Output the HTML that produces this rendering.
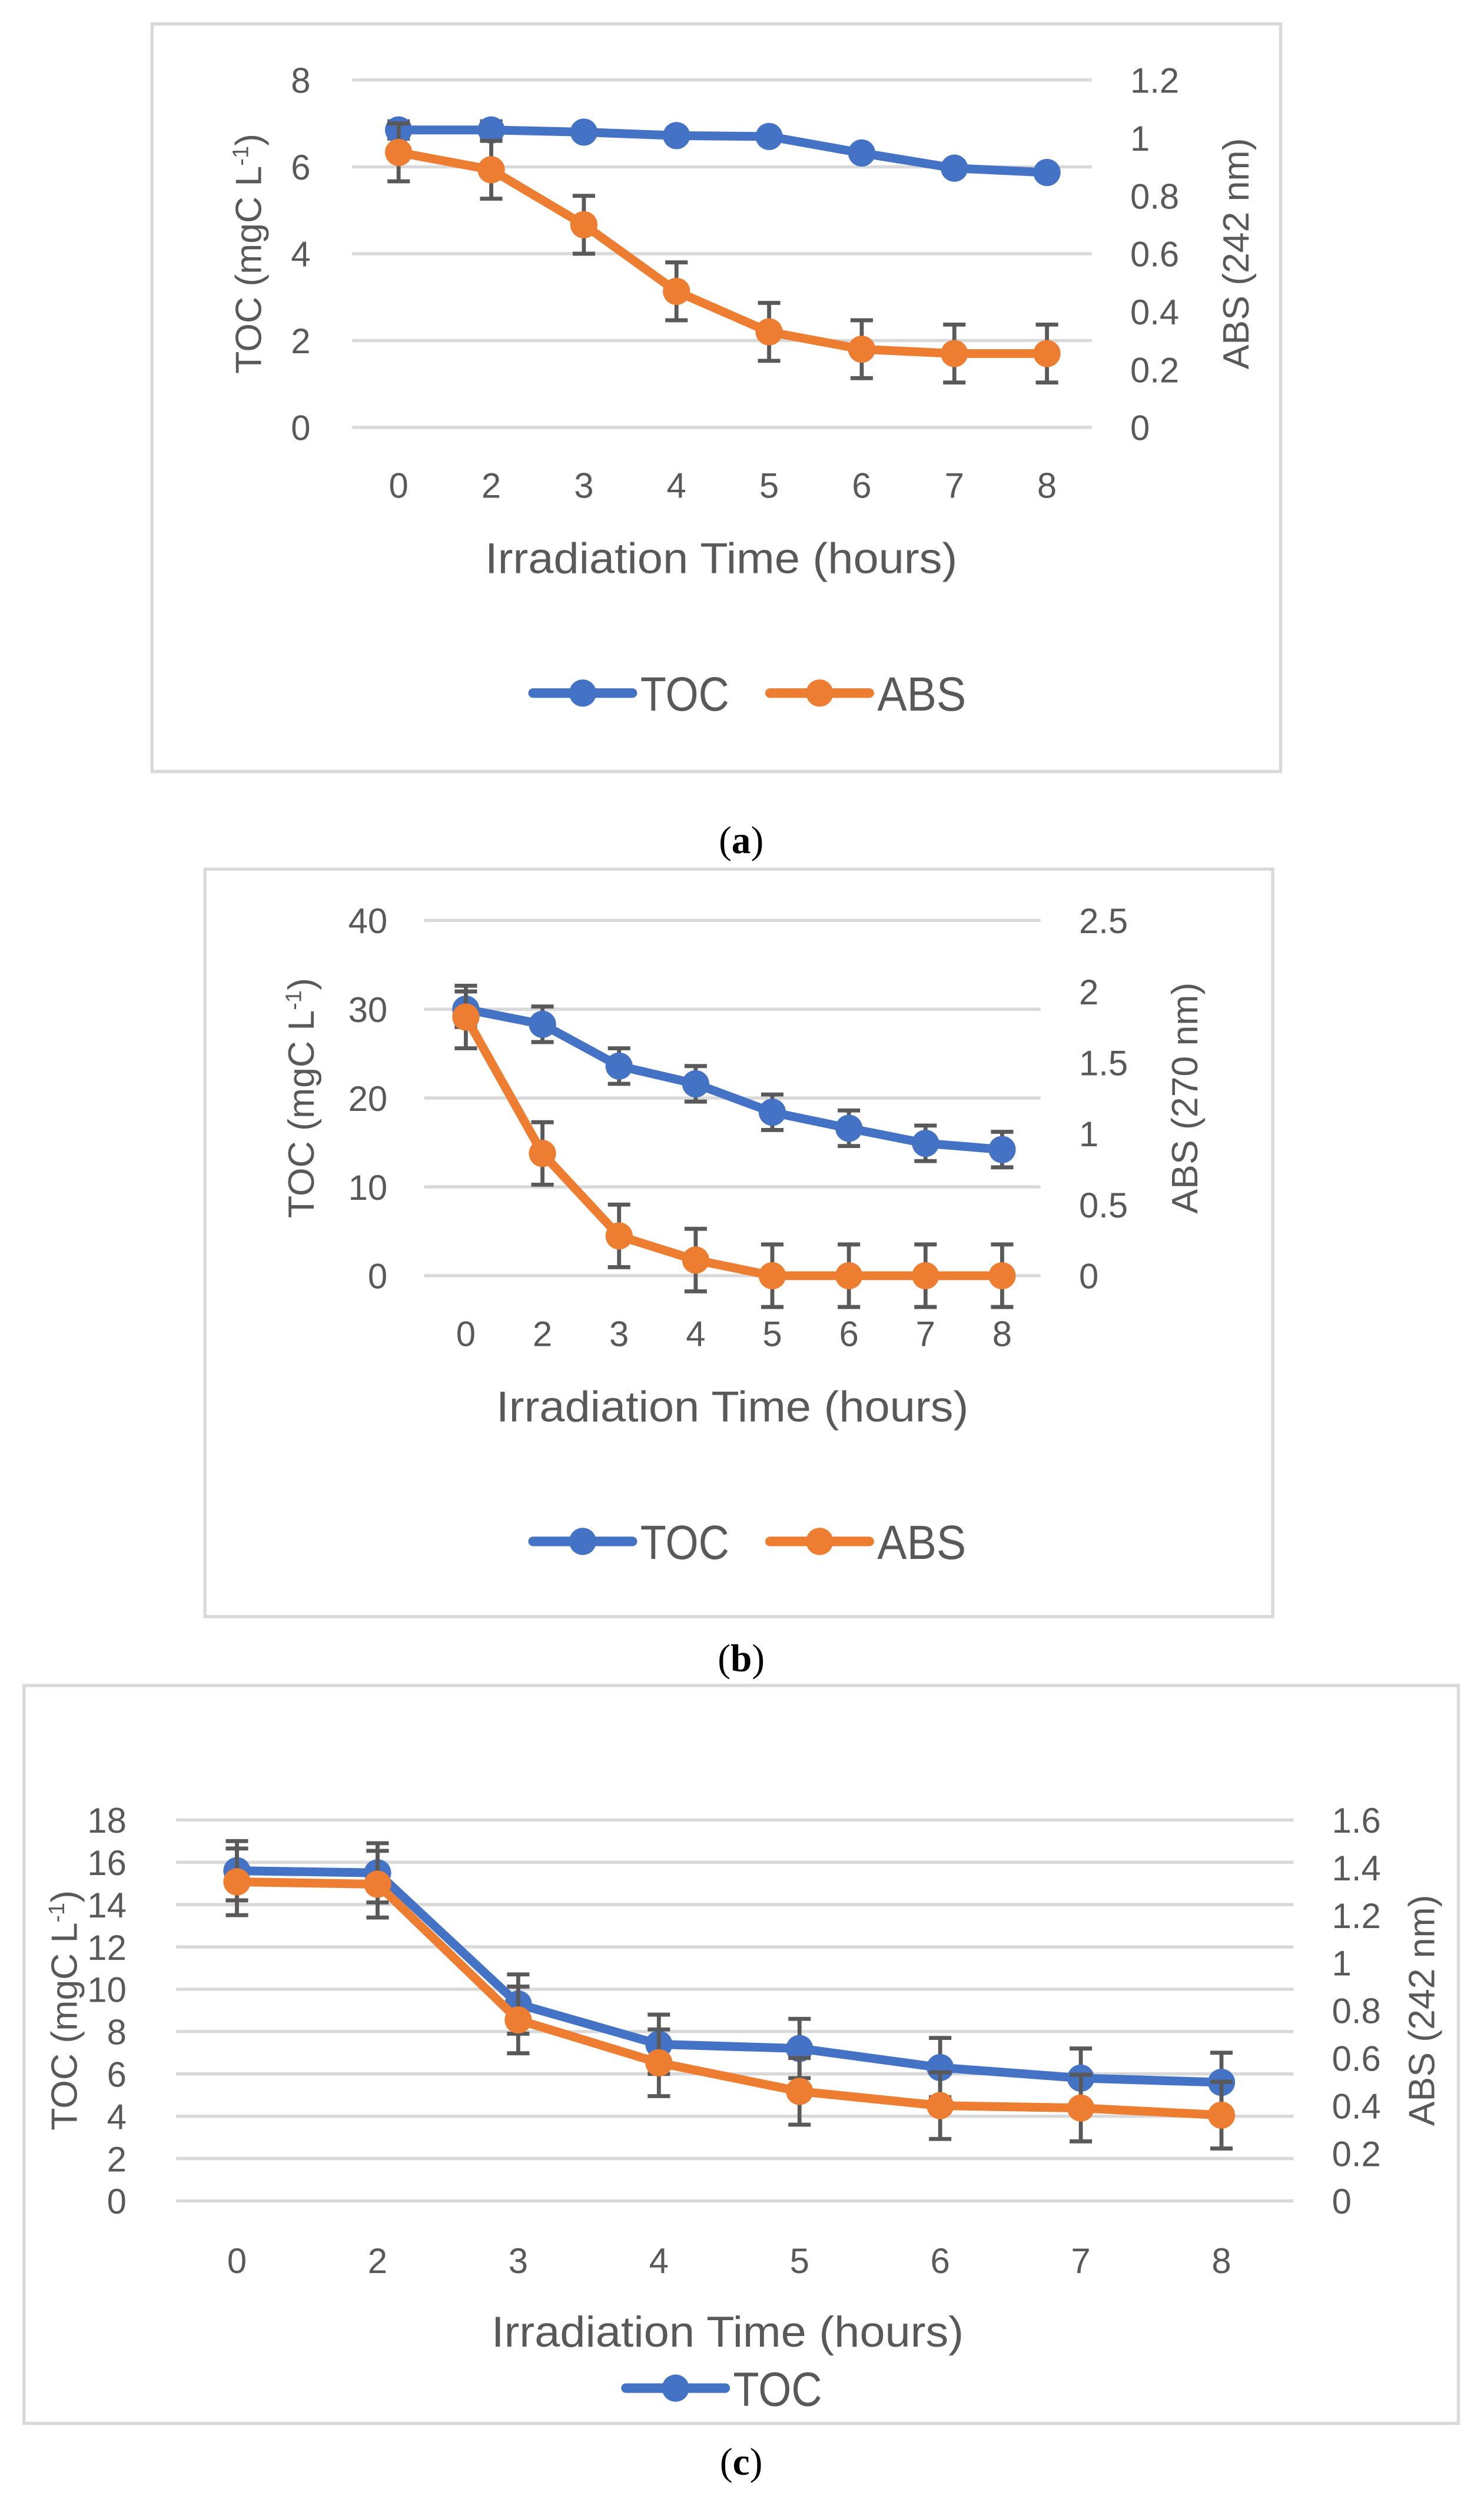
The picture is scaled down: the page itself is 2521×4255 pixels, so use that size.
<!DOCTYPE html>
<html><head><meta charset="utf-8">
<style>
html,body{margin:0;padding:0;background:#fff;}
svg{display:block;}
text{font-family:"Liberation Sans Narrow","Liberation Sans",sans-serif;fill:#595959;}
.wide{font-family:"Liberation Sans",sans-serif;}
.cap{font-family:"Liberation Serif",serif;fill:#000;}
</style></head>
<body>
<svg id="fig" width="2521" height="4255" viewBox="0 0 927 1565" preserveAspectRatio="none" xmlns="http://www.w3.org/2000/svg"></svg>
<script>
const categories = ["0","2","3","4","5","6","7","8"];
// panel a
const tocA = [6.85,6.85,6.8,6.72,6.7,6.32,5.97,5.87];
const tocErrA = [0.2,0.2,0,0,0,0,0,0];
const absA = [0.95,0.89,0.70,0.47,0.33,0.27,0.255,0.255];
const absErrA = [0.1,0.1,0.1,0.1,0.1,0.1,0.1,0.1];
const leftTicksA = [0,2,4,6,8];
const rightTicksA = ["0","0.2","0.4","0.6","0.8","1","1.2"];
// panel b
const tocB = [30,28.3,23.6,21.6,18.4,16.6,14.9,14.2];
const tocErrB = [2,2,2,2,2,2,2,2];
const absB = [1.82,0.86,0.28,0.11,0,0,0,0];
const absErrB = [0.22,0.22,0.22,0.22,0.22,0.22,0.22,0.22];
const leftTicksB = [0,10,20,30,40];
const rightTicksB = ["0","0.5","1","1.5","2","2.5"];
// panel c
const tocC = [15.6,15.5,9.3,7.4,7.2,6.3,5.8,5.6];
const tocErrC = [1.4,1.4,1.4,1.4,1.4,1.4,1.4,1.4];
const absC = [1.34,1.33,0.76,0.58,0.46,0.40,0.39,0.36];
const absErrC = [0.14,0.14,0.14,0.14,0.14,0.14,0.14,0.14];
const leftTicksC = [0,2,4,6,8,10,12,14,16,18];
const rightTicksC = ["0","0.2","0.4","0.6","0.8","1","1.2","1.4","1.6"];

const NS="http://www.w3.org/2000/svg";
const svg=document.getElementById('fig');
function mk(tag,attrs,parent){const e=document.createElementNS(NS,tag);for(const k in attrs)e.setAttribute(k,attrs[k]);(parent||svg).appendChild(e);return e;}
const BLUE="#4472c4",ORANGE="#ed7d31",GRID="#d9d9d9",ERR="#595959";

function panel(cfg){
  const g=mk('g',{});
  
  
  const box=mk('rect',{x:cfg.box[0],y:cfg.box[1],width:cfg.box[2]-cfg.box[0],height:cfg.box[3]-cfg.box[1],fill:'#fff',stroke:GRID,'stroke-width':2},g);
  
  
  const lmax=cfg.lTicks[cfg.lTicks.length-1];
  const rmax=parseFloat(cfg.rTicks[cfg.rTicks.length-1]);
  const yL=v=>cfg.y0-(v/lmax)*(cfg.y0-cfg.yTop);
  const yR=v=>cfg.y0-(v/rmax)*(cfg.y0-cfg.yTop);
  const xs=i=>cfg.x0+i*(cfg.x8-cfg.x0)/(categories.length-1);
  cfg.lTicks.forEach(t=>{
    const l=mk('line',{x1:cfg.gx[0],x2:cfg.gx[1],y1:yL(t),y2:yL(t),stroke:GRID,'stroke-width':2},g);
    
    
    const tx=mk('text',{x:cfg.lx,y:yL(t)+8,'text-anchor':'end','font-size':cfg.fs},g);tx.textContent=t;
    
    
  });
  cfg.rTicks.forEach(t=>{
    const tx=mk('text',{x:cfg.rx,y:yR(parseFloat(t))+8,'font-size':cfg.fs},g);tx.textContent=t;
    
    
  });
  categories.forEach((c,i)=>{
    const tx=mk('text',{x:xs(i),y:cfg.xly,'text-anchor':'middle','font-size':cfg.fs},g);tx.textContent=c;
    
    
  });
  const xt=mk('text',{x:cfg.xtx,y:cfg.xty,'font-size':27,textLength:295,lengthAdjust:'spacingAndGlyphs'},g);xt.textContent='Irradiation Time (hours)';
  
  
  const ym=(cfg.y0+cfg.yTop)/2;
  const lt=mk('text',{x:0,y:0,'text-anchor':'middle','font-size':23,class:'wide',transform:`translate(${cfg.ltx},${ym}) rotate(-90)`},g);
  lt.innerHTML='TOC (mgC L<tspan dy="-8" font-size="14">-1</tspan><tspan dy="8">)</tspan>';
  
  
  const rt=mk('text',{x:0,y:0,'text-anchor':'middle','font-size':23,class:'wide',transform:`translate(${cfg.rtx},${ym}) rotate(-90)`},g);
  rt.textContent=cfg.rTitle;
  
  
  function series(vals,errs,ys,color,name){
    const sg=mk('g',{},g);
    
    
    vals.forEach((v,i)=>{ if(errs[i]>0){
      const eg=mk('g',{stroke:ERR,'stroke-width':2.5,fill:'none'},sg);
      
      
      mk('line',{x1:xs(i),x2:xs(i),y1:ys(v-errs[i]),y2:ys(v+errs[i])},eg);
      mk('line',{x1:xs(i)-7,x2:xs(i)+7,y1:ys(v-errs[i]),y2:ys(v-errs[i])},eg);
      mk('line',{x1:xs(i)-7,x2:xs(i)+7,y1:ys(v+errs[i]),y2:ys(v+errs[i])},eg);
    }});
    const p=mk('polyline',{points:vals.map((v,i)=>xs(i)+','+ys(v)).join(' '),fill:'none',stroke:color,'stroke-width':5.5,'stroke-linejoin':'round'},sg);
    
    
    vals.forEach((v,i)=>{
      const c=mk('circle',{cx:xs(i),cy:ys(v),r:8.5,fill:color},sg);
      
      
    });
  }
  series(cfg.toc,cfg.tocErr,yL,BLUE,'toc');
  series(cfg.abs,cfg.absErr,yR,ORANGE,'abs');
  cfg.legend.forEach(L=>{
    const lg=mk('g',{},g);
    
    
    mk('line',{x1:L.x,x2:L.x+62,y1:cfg.ly,y2:cfg.ly,stroke:L.c,'stroke-width':6,'stroke-linecap':'round'},lg);
    mk('circle',{cx:L.x+31,cy:cfg.ly,r:8.5,fill:L.c},lg);
    const t=mk('text',{x:L.x+67,y:cfg.ly+11,'font-size':30,textLength:L.t.length*18.5,lengthAdjust:'spacingAndGlyphs'},lg);t.textContent=L.t;
  });
  const cp=mk('text',{x:cfg.capx,y:cfg.capy,'text-anchor':'middle','font-size':24,class:'cap'},g);
  cp.innerHTML='(<tspan font-weight="bold">'+cfg.id+'</tspan>)';
  
  
}

panel({id:'a',box:[95,15,800,482],gx:[220,682],yTop:50,y0:267,x0:249,x8:654,lTicks:leftTicksA,rTicks:rightTicksA,
  lx:194,rx:706,fs:22,xly:311,xty:358,xtx:303,ltx:163,rtx:780,rTitle:'ABS (242 nm)',toc:tocA,tocErr:tocErrA,abs:absA,absErr:absErrA,
  ly:433,legend:[{x:333,c:BLUE,t:'TOC'},{x:481,c:ORANGE,t:'ABS'}],capx:463,capy:533});
panel({id:'b',box:[128,543,795,1010],gx:[265,650],yTop:575,y0:797,x0:291,x8:626,lTicks:leftTicksB,rTicks:rightTicksB,
  lx:242,rx:674,fs:22,xly:841,xty:888,xtx:310,ltx:196,rtx:748,rTitle:'ABS (270 nm)',toc:tocB,tocErr:tocErrB,abs:absB,absErr:absErrB,
  ly:963,legend:[{x:333,c:BLUE,t:'TOC'},{x:481,c:ORANGE,t:'ABS'}],capx:463,capy:1044});
panel({id:'c',box:[15,1053,911,1514],gx:[110,808],yTop:1137,y0:1375,x0:148,x8:763,lTicks:leftTicksC,rTicks:rightTicksC,
  lx:79,rx:832,fs:22,xly:1420,xty:1466,xtx:307,ltx:48,rtx:896,rTitle:'ABS (242 nm)',toc:tocC,tocErr:tocErrC,abs:absC,absErr:absErrC,
  ly:1492,legend:[{x:391,c:BLUE,t:'TOC'}],capx:463,capy:1546});
</script>
</body></html>
